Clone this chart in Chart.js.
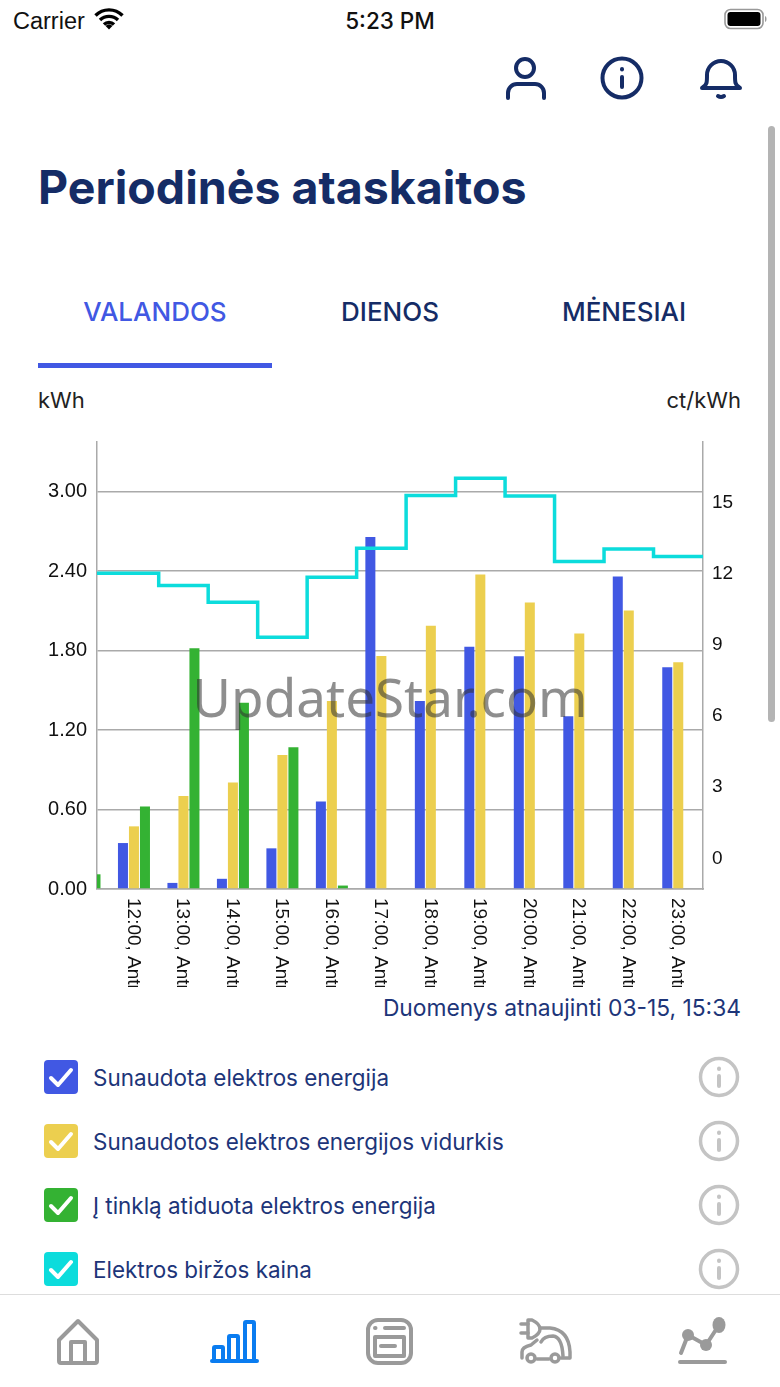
<!DOCTYPE html>
<html>
<head>
<meta charset="utf-8">
<script src="https://cdn.jsdelivr.net/npm/chart.js@4/dist/chart.umd.min.js"></script>
<style>
html,body{margin:0;padding:0;background:#fff;}
body{position:relative;width:780px;height:1387px;overflow:hidden;font-family:Inter,"Noto Sans",sans-serif;color:#152c66;}
.abs{position:absolute;white-space:nowrap;}
svg{position:absolute;overflow:visible;}
.tab{font-size:26px;font-weight:500;top:296px;line-height:32px;transform:translateX(-50%);}
.row{left:93px;font-size:22.45px;line-height:30px;color:#1d3579;}
.box{position:absolute;left:44px;width:34px;height:34px;border-radius:4px;}
canvas{position:absolute;left:0;top:420px;}
</style>
</head>
<body>
<div class="abs" style="left:13px;top:7px;font-size:23.5px;line-height:28px;color:#111;font-family:'Liberation Sans'">Carrier</div>
<svg style="left:94px;top:8px" width="30" height="22" viewBox="0 0 30 22"><path d="M1.5 7.5a19 19 0 0 1 27 0M6 12a13 13 0 0 1 18 0M10 16.5a7 7 0 0 1 10 0" fill="none" stroke="#000" stroke-width="3.4"/><path d="M15 21.5l-3.4-3.6a5 5 0 0 1 6.8 0z" fill="#000"/></svg>
<div class="abs" style="left:390px;top:7px;transform:translateX(-50%);font-size:22.5px;line-height:28px;font-weight:500;color:#111">5:23 PM</div>
<svg style="left:724px;top:8px" width="44" height="22"><rect x="1" y="1.5" width="38" height="19" rx="5.5" fill="none" stroke="#999" stroke-width="1.6"/><rect x="3.5" y="4" width="33" height="14" rx="3" fill="#000"/><path d="M41 8v6c2-.5 2-5.500 0-6z" fill="#999"/></svg>

<svg style="left:500px;top:50px" width="250" height="56" fill="none" stroke="#152c66" stroke-width="4" stroke-linecap="round">
<circle cx="25" cy="18" r="9"/><path d="M8 48v-5a9 9 0 0 1 9-9h18a9 9 0 0 1 9 9v5"/>
<circle cx="122" cy="28" r="19.500"/><path d="M122 27v10"/><path d="M122 19v.5"/>
<path d="M203 37c4-2 4-5 4-12a14 14 0 0 1 28 0c0 7 0 10 4 12"/><path d="M202 38h38"/><path d="M218 46q3 2 6 0"/>
</svg>

<div class="abs" style="left:38px;top:158px;font-size:46.500px;line-height:58px;font-weight:700;color:#152c66">Periodinės ataskaitos</div>
<div class="abs tab" style="left:155px;color:#4158e3">VALANDOS</div>
<div class="abs tab" style="left:390px">DIENOS</div>
<div class="abs tab" style="left:624px">MĖNESIAI</div>
<div class="abs" style="left:38px;top:363px;width:234px;height:5px;background:#4158e3"></div>
<div class="abs" style="left:38px;top:386px;font-size:22px;line-height:28px;color:#222">kWh</div>
<div class="abs" style="right:39px;top:386px;font-size:22px;line-height:28px;color:#222">ct/kWh</div>

<canvas id="chart" width="780" height="567"></canvas>
<div class="abs" style="left:390px;top:661px;transform:translateX(-50%);font-size:53px;line-height:72px;font-family:'Noto Sans';font-weight:400;color:rgba(50,50,50,.55)">UpdateStar.com</div>

<div class="abs" style="right:39px;top:993px;font-size:22.8px;line-height:30px;color:#1d3579">Duomenys atnaujinti 03-15, 15:34</div>

<div id="legend"></div>
<div class="abs" style="left:768px;top:126px;width:7px;height:596px;border-radius:4px;background:#b4b4b4"></div>

<div class="abs" style="left:0;top:1294px;width:780px;height:93px;background:#fff;border-top:1.500px solid #ddd"></div>
<svg style="left:0;top:1300px" width="780" height="80" fill="none" stroke="#9a9a9a" stroke-width="4" stroke-linejoin="round" stroke-linecap="round">
<path d="M78 21L59 40v21q0 2 2 2h34q2 0 2-2V40z"/><path d="M71 62V42h14v20"/>
<g stroke="#0a7cf0"><path d="M212 61h45"/><rect x="214" y="47" width="9" height="14" rx="1"/><rect x="229" y="36" width="9" height="25" rx="1"/><rect x="245" y="22" width="9" height="39" rx="1"/></g>
<rect x="368" y="20" width="43" height="43" rx="10"/><rect x="375" y="37" width="29" height="19"/><path d="M385 28h19M381 46h14M375 28h.5"/>
<g stroke-width="3.5"><path d="M521 24h7M521 33h7"/><path d="M528 20h4q8 4 8 9q0 5-8 9h-4z"/><path d="M540 28h10q19 2 20 24v6"/><path d="M541 42q3-6 12-6 9 1 10 20"/><path d="M522 58v-6q0-5 9-7l6-5"/><circle cx="531" cy="58" r="4"/><circle cx="555" cy="58" r="4"/><path d="M537 59h12M561 58h8"/></g>
<path d="M680 62h45"/><path d="M681 53l7-18 18 10 13-20"/><g fill="#9a9a9a" stroke="none"><circle cx="688" cy="35" r="6"/><circle cx="706" cy="45" r="6"/><ellipse cx="719" cy="25" rx="6.500" ry="8"/></g>
</svg>

<script>
var hours = ['11:00, Antr','12:00, Antr','13:00, Antr','14:00, Antr','15:00, Antr','16:00, Antr','17:00, Antr','18:00, Antr','19:00, Antr','20:00, Antr','21:00, Antr','22:00, Antr','23:00, Antr','00:00, Treč'];
var consumed = [null,0.347,0.046,0.077,0.307,0.66,2.657,1.42,1.83,1.757,1.305,2.36,1.674,null];
var average = [null,0.473,0.703,0.804,1.012,1.42,1.76,1.988,2.374,2.163,1.93,2.103,1.712,null];
var exported = [0.111,0.623,1.817,1.406,1.07,0.026,0,0,0,0,0,0,0,null];
var price = [11.95,11.95,11.43,10.73,9.26,11.78,13.0,15.23,15.95,15.2,12.45,12.97,12.66,12.66];
var kwhTicks = [0,0.6,1.2,1.8,2.4,3.0];
var legendNames = ['Sunaudota elektros energija','Sunaudotos elektros energijos vidurkis','Į tinklą atiduota elektros energija','Elektros biržos kaina'];
var legendColors = ['#4158e3','#eccf4f','#34b233','#0cdcdc'];

function points(arr) {
    return arr.map(function (v, i) { return {x: i - 1, y: v}; });
}

var tickFont = {family: 'Liberation Sans', size: 19};
var graph = document.getElementById('chart').getContext('2d');
var myChart = new Chart(graph, {
    type: 'bar',
    data: {
        datasets: [
            {type: 'line', label: legendNames[3], data: points(price), yAxisID: 'yRight', stepped: 'middle', borderColor: legendColors[3], borderWidth: 3.5, pointRadius: 0, fill: false, order: 0},
            {label: legendNames[0], data: points(consumed), yAxisID: 'yLeft', backgroundColor: legendColors[0], order: 1},
            {label: legendNames[1], data: points(average), yAxisID: 'yLeft', backgroundColor: legendColors[1], order: 1},
            {label: legendNames[2], data: points(exported), yAxisID: 'yLeft', backgroundColor: legendColors[2], order: 1}
        ]
    },
    options: {
        responsive: false,
        animation: false,
        layout: {padding: {top: 21}},
        barPercentage: 0.91,
        categoryPercentage: 0.667,
        plugins: {legend: {display: false}, tooltip: {enabled: false}},
        scales: {
            x: {
                type: 'linear',
                offset: false,
                min: -0.747,
                max: 11.5,
                grid: {display: false, drawTicks: false},
                border: {display: true, color: '#aaa', width: 1.5},
                ticks: {
                    stepSize: 1,
                    autoSkip: false,
                    includeBounds: false,
                    padding: 9,
                    labelOffset: -1,
                    color: '#111',
                    font: tickFont,
                    callback: function (v) { return hours[v + 1]; }
                },
                // labels read top to bottom here, chart.js only rotates the other way
                afterCalculateLabelRotation: function (s) {
                    s.labelRotation = -90;
                    s._getXAxisLabelAlignment = function () { return 'left'; };
                },
                afterFit: function (s) { s.height = 98; }
            },
            yLeft: {
                position: 'left',
                min: 0,
                max: 3.375,
                afterBuildTicks: function (s) { s.ticks = kwhTicks.map(function (v) { return {value: v}; }); },
                grid: {color: '#aaa', lineWidth: 1.5, drawTicks: false},
                border: {display: true, color: '#aaa', width: 1.5},
                ticks: {padding: 10, color: '#111', font: {family: 'Liberation Sans', size: 20}, callback: function (v) { return v.toFixed(2); }},
                afterFit: function (s) { s.width = 97; }
            },
            yRight: {
                position: 'right',
                min: -1.35,
                max: 17.48,
                grid: {display: false, drawTicks: false},
                border: {display: true, color: '#aaa', width: 1.5},
                ticks: {stepSize: 3, includeBounds: false, padding: 9, labelOffset: 1.5, color: '#111', font: tickFont},
                afterFit: function (s) { s.width = 77; }
            }
        }
    }
});

var rows = '';
legendNames.forEach(function (name, i) {
    var cy = 1077 + i * 64;
    rows += '<div class="box" style="top:' + (cy - 17) + 'px;background:' + legendColors[i] + '"></div>';
    rows += '<svg style="left:44px;top:' + (cy - 17) + 'px" width="34" height="34" fill="none" stroke="#fff" stroke-width="4" stroke-linecap="round" stroke-linejoin="round"><path d="M7 18l7 7 13-15"/></svg>';
    rows += '<div class="abs row" style="top:' + (cy - 14) + 'px">' + name + '</div>';
    rows += '<svg style="left:698px;top:' + (cy - 21) + 'px" width="42" height="42" fill="none" stroke="#c4c4c4" stroke-width="3.5" stroke-linecap="round"><circle cx="21" cy="21" r="18.500"/><path d="M21 20v10" stroke-width="4"/><path d="M21 12.500v.5" stroke-width="4"/></svg>';
});
document.getElementById('legend').innerHTML = rows;
</script>
</body>
</html>
